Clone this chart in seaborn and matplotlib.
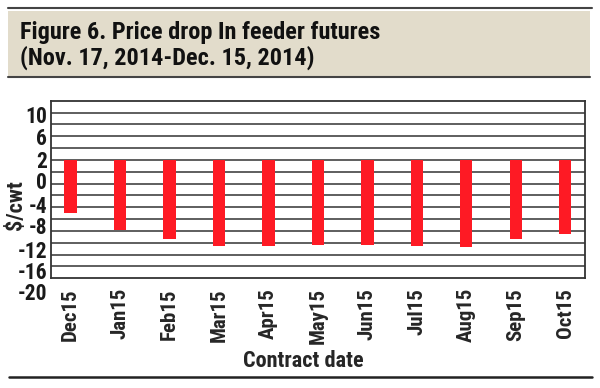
import numpy as np
import seaborn as sns
import matplotlib.pyplot as plt
from matplotlib.lines import Line2D
from matplotlib.patches import Rectangle

contracts = ["Dec15", "Jan15", "Feb15", "Mar15", "Apr15", "May15",
             "Jun15", "Jul15", "Aug15", "Sep15", "Oct15"]
price_drop = [-9.0, -11.8, -13.3, -14.5, -14.6, -14.4, -14.4, -14.5, -14.7, -13.3, -12.5]

# printed axis labels and where they sit on the value scale
ytick_text = ["10", "6", "2", "0", "-4", "-8", "-12", "-16", "-20"]
ytick_pos = [7.3, 3.5, -0.3, -3.9, -7.9, -11.5, -15.5, -19.1, -22.6]

sns.set_style("white")
plt.rcParams["font.family"] = ["Roboto Condensed", "DejaVu Sans"]

fig = plt.figure(figsize=(6, 3.88), dpi=100)
ax = fig.add_axes([51.3 / 600, 1 - 278.3 / 388, (585 - 51.3) / 600, (278.3 - 100.7) / 388])

sns.barplot(x=contracts, y=price_drop, color="#fe1a24", saturation=1,
            width=0.25, ax=ax, linewidth=0)

ax.set_ylim(-20, 10)
ax.set_xlim(-0.39, 10.4)
ax.set_yticks(np.arange(-18, 10, 2))
ax.set_yticklabels([])
ax.yaxis.grid(True, color="#333333", linewidth=1.1)
ax.set_axisbelow(True)
ax.tick_params(axis="both", length=0)
ax.tick_params(axis="x", pad=7)
for lab in ax.get_xticklabels():
    lab.set_rotation(90)
    lab.set_fontweight("bold")
    lab.set_fontsize(15)
    lab.set_va("top")
for s in ax.spines.values():
    s.set_color("#333333")
    s.set_linewidth(1.3)

for t, p in zip(ytick_text, ytick_pos):
    ax.text(-0.008, p, t, transform=ax.get_yaxis_transform(), ha="right", va="center",
            fontsize=15.5, fontweight="bold", color="#1a1a1a")

ax.set_ylabel("$/cwt", fontsize=16, fontweight="bold")
ax.yaxis.set_label_coords(-0.046, 0.413)
ax.set_xlabel("Contract date", fontsize=16, fontweight="bold")
ax.xaxis.set_label_coords(0.4716, -0.405)

# header band
fig.add_artist(Rectangle((8 / 600, 1 - 77 / 388), 582 / 600, 66 / 388,
                         transform=fig.transFigure, facecolor="#e2dccb", edgecolor="none"))
fig.add_artist(Line2D([8 / 600, 592 / 600], [1 - 8 / 388, 1 - 8 / 388],
                      transform=fig.transFigure, color="#444444", linewidth=1.5))
fig.add_artist(Line2D([8 / 600, 590 / 600], [1 - 77 / 388, 1 - 77 / 388],
                      transform=fig.transFigure, color="#444444", linewidth=1.5))
fig.add_artist(Line2D([9 / 600, 592 / 600], [1 - 377 / 388, 1 - 377 / 388],
                      transform=fig.transFigure, color="#222222", linewidth=1.8))
fig.text(20 / 600, 1 - 33 / 388, "Figure 6. Price drop In feeder futures",
         fontsize=17.5, fontweight="bold", va="center", ha="left", color="#111111")
fig.text(20 / 600, 1 - 58 / 388, "(Nov. 17, 2014-Dec. 15, 2014)",
         fontsize=17.5, fontweight="bold", va="center", ha="left", color="#111111")

fig.savefig("out.png", dpi=100)
